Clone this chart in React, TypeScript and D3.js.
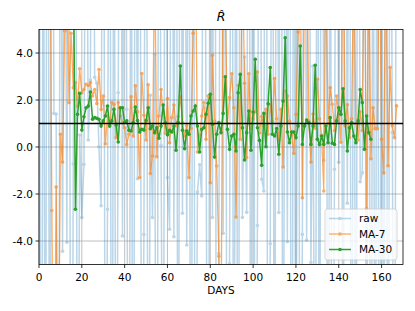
import React from 'react';
import * as d3 from 'd3';

// daily raw estimate, starts at day 0 (values far outside the axis are clipped)
const RAW_START = 0;
const raw = [
	20, -25, 15, -18, 30, -20, 22, 1.43, 1.4, -25,
	18, -4.44, 20, -4.05, 25, -30, -0.72, 24, -20, 0.51,
	-3.0, -0.74, 18, 0.3, 2.85, 20, 2.97, 2.71, 0.01, -2.5,
	25, -18, -2.65, 22, -24, 18, -20, 2.31, 20, -3.79,
	24, 1.6, -22, 18, -25, 20, -1.35, 22, -18, -3.72,
	25, -20, 2.2, -3.0, 3.94, -24, 20, 0.07, -18, 22,
	-1.3, -3.5, 20, -3.82, 25, -22, 24, -2.82, 18, -4.17,
	20, -25, 22, -18, -1.92, -0.76, -2.08, 20, 1.67, -22,
	18, -3.0, 24, -20, -4.53, 22, -3.67, 20, -24, -4.98,
	25, -20, 18, -22, 20, -3.0, 3.83, -2.78, 22, -18,
	24, -20, -3.34, 20, -1.37, -1.87, 25, -22, -4.12, 20,
	-18, 22, -2.79, 24, -20, 18, -4.03, 22, -25, 20,
	-18, 24, -22, -3.72, 20, -3.97, 18, -4.91, 3.44, -20,
	22, -18, 25, -0.56, 20, -22, 18, -24, -0.95, 20,
	-0.65, 22, -18, 24, -2.39, 20, -22, 18, -20, 25,
	-1.48, -1.1, 22, -18, 20, -24, 18, -20, 22, -25,
	20, -18, 24, -22, 20, 0.61, -20, 18,
];

// 7-day moving average, starts at day 5
const MA7_START = 5;
const ma7 = [
	12, -2.7, -14, -1.7, -12, 0.54, -0.64, 4.94, 9, 1.89,
	4.84, 2.52, 2.74, 1.74, 3.33, 2.31, 2.45, 2.67, 2.62, 2.74,
	2.17, 2.45, 1.85, 3.3, 1.6, 2.17, 0.14, 1.32, 0.89, 1.89,
	1.82, 0.4, 1.89, 1.32, 1.04, 0.82, 0.11, 0.54, 2.14, 0.47,
	2.6, 1.5, -1.3, 3.13, 1.35, 0.3, 2.65, -1.13, -0.38, 8,
	-0.41, 1.32, 2.45, 1.43, 0.6, 2.06, 0.18, 1.25, 1.79, 0.9,
	1.3, 2.14, 1.04, 0.47, 0.9, -1.3, 0.8, 4.84, 9, -0.21,
	0.5, 1.32, 1.89, 0.33, 2.17, -1.52, 3.9, 1.1, -0.81, -4.65,
	-9, 9, 6, 1.0, 2.1, 3.12, 1.67, -2.98, 2.62, 0.33,
	8, 2.71, -0.45, 3.12, 0.8, 1.2, 1.5, 3.19, 0.6, 1.3,
	0.9, 1.6, 0.54, 1.8, 1.1, 2.91, 1.2, 0.3, 1.6, -0.85,
	2.38, 2.17, 1.1, 0.5, -0.27, 1.39, 4.89, 8, -2.16, 7,
	9, 1.1, -0.64, 1.4, 0.8, 2.88, 1.2, 0.5, -1.87, 8,
	1.0, 2.52, 1.82, 0.7, 2.17, 1.4, 0.2, 9, 0.9, 1.8,
	0.4, 1.2, 8, 1.0, 0.3, 1.5, 0.7, 9, -2.62, 8,
	-0.5, 1.67, 0.78, 0.78, 9, 0.33, -1.1, 9, -0.8, 3.38,
	0.9, 0.4, 1.75,
];

// 30-day moving average, starts at day 16
const MA30_START = 16;
const ma30 = [
	9, -2.65, 1.39, 2.28, 0.72, 1.29, 1.67, 1.74, 2.34, 1.18,
	1.25, 1.22, 1.18, 0.89, 1.11, 1.32, 1.74, 0.89, 1.11, 1.6,
	0.94, 0.21, 1.67, 1.67, 1.04, 1.11, 0.71, 0.68, 1.04, 1.7,
	1.13, 0.64, 0.75, 0.72, 1.13, 1.67, 0.78, 0.89, 0.61, 0.82,
	0.37, 0.89, 1.79, 1.04, 0.52, 0.71, 0.64, 0.89, -0.14, 1.04,
	3.45, 0.71, -0.07, 0.68, 0.54, 1.32, 1.53, 1.74, 0.89, -0.21,
	0.75, 0.82, 1.39, 1.86, 2.24, 0.96, -0.43, 0.54, 1.04, 0.61,
	1.43, 2.99, 0.75, -0.1, 0.47, 0.54, -0.17, 2.31, 3.09, 0.82,
	-0.55, 0.61, 1.53, -0.14, 1.49, 3.73, 0.82, 0.28, -0.78, 1.43,
	0.01, 1.84, 3.38, 0.54, 0.47, 0.79, -0.31, 0.89, 1.96, 4.65,
	0.64, 0.18, 0.64, 0.64, 0.4, 0.89, 4.3, 0.11, 0.89, 1.15,
	1.04, 0.11, 0.89, 3.48, 0.33, 0.11, 0.47, 0.11, 0.89, 0.18,
	1.25, 0.16, 0.11, 1.11, 1.67, 1.39, 2.48, 1.11, -0.17, 0.82,
	1.04, 0.47, 0.18, 1.11, 2.45, 1.89, -0.1, 1.32, 0.61, 0.33,
];

const xTicks = [0, 20, 40, 60, 80, 100, 120, 140, 160];
const yTicks = [-4, -2, 0, 2, 4];
const refLevel = 1;

const W = 415;
const H = 311;
const margin = { top: 29.5, right: 12, bottom: 46.5, left: 39 };
const font = 'DejaVu Sans, sans-serif';

const series = [
	{ name: 'raw', values: raw, start: RAW_START, color: '#1f77b4', opacity: 0.3, width: 1.5 },
	{ name: 'MA-7', values: ma7, start: MA7_START, color: '#ff7f0e', opacity: 0.65, width: 1.3 },
	{ name: 'MA-30', values: ma30, start: MA30_START, color: '#2ca02c', opacity: 1, width: 1.5 },
];

export default function App() {
	const x = d3.scaleLinear().domain([0, 170]).range([margin.left, W - margin.right]);
	const y = d3.scaleLinear().domain([-5, 5]).range([H - margin.bottom, margin.top]);
	const [x0, x1] = x.range();
	const [y0, y1] = y.range();

	const line = d3
		.line<[number, number]>()
		.x((d) => x(d[0]))
		.y((d) => y(d[1]));

	return (
		<svg
			width={W}
			height={H}
			style={{ position: 'absolute', left: 0, top: 0, background: 'white' }}
			fontFamily={font}
		>
			<defs>
				<clipPath id="plot">
					<rect x={x0} y={y1} width={x1 - x0} height={y0 - y1} />
				</clipPath>
			</defs>
			<rect width={W} height={H} fill="white" />

			{/* grid */}
			<g stroke="#b0b0b0" strokeWidth={0.8}>
				{xTicks.map((t) => (
					<line key={'gx' + t} x1={x(t)} x2={x(t)} y1={y1} y2={y0} />
				))}
				{yTicks.map((t) => (
					<line key={'gy' + t} x1={x0} x2={x1} y1={y(t)} y2={y(t)} />
				))}
			</g>

			<g clipPath="url(#plot)">
				{series.map((s) => {
					const pts = s.values.map((v, i) => [s.start + i, v] as [number, number]);
					return (
						<g key={s.name} opacity={s.opacity}>
							<path d={line(pts) ?? ''} fill="none" stroke={s.color} strokeWidth={s.width} />
							{pts.map((p, i) => (
								<circle key={i} cx={x(p[0])} cy={y(p[1])} r={1.8} fill={s.color} />
							))}
						</g>
					);
				})}
				<line x1={x0} x2={x1} y1={y(refLevel)} y2={y(refLevel)} stroke="black" strokeWidth={1.5} />
			</g>

			{/* frame */}
			<rect x={x0} y={y1} width={x1 - x0} height={y0 - y1} fill="none" stroke="black" strokeWidth={0.8} />

			{/* ticks */}
			<g fontSize={10.5} fill="black">
				{xTicks.map((t) => (
					<g key={'tx' + t}>
						<line x1={x(t)} x2={x(t)} y1={y0} y2={y0 + 3.5} stroke="black" strokeWidth={0.8} />
						<text x={x(t)} y={y0 + 16} textAnchor="middle">
							{t}
						</text>
					</g>
				))}
				{yTicks.map((t) => (
					<g key={'ty' + t}>
						<line x1={x0 - 3.5} x2={x0} y1={y(t)} y2={y(t)} stroke="black" strokeWidth={0.8} />
						<text x={x0 - 6} y={y(t) + 3.8} textAnchor="end">
							{t.toFixed(1)}
						</text>
					</g>
				))}
			</g>
			<text x={(x0 + x1) / 2} y={294} textAnchor="middle" fontSize={10.5}>
				DAYS
			</text>
			<text x={(x0 + x1) / 2} y={21} textAnchor="middle" fontSize={12.5} fontStyle="italic">
				R̂
			</text>

			{/* legend */}
			<g>
				<rect x={325} y={209} width={72} height={51} rx={2.5} fill="white" fillOpacity={0.8} stroke="#cccccc" strokeWidth={0.8} />
				{series.map((s, i) => {
					const ly = 218.5 + i * 15.5;
					return (
						<g key={'lg' + s.name}>
							<g opacity={s.opacity}>
								<line x1={329} x2={351} y1={ly} y2={ly} stroke={s.color} strokeWidth={s.width} />
								<circle cx={340} cy={ly} r={1.8} fill={s.color} />
							</g>
							<text x={359} y={ly + 3.8} fontSize={10.5}>
								{s.name}
							</text>
						</g>
					);
				})}
			</g>
		</svg>
	);
}
